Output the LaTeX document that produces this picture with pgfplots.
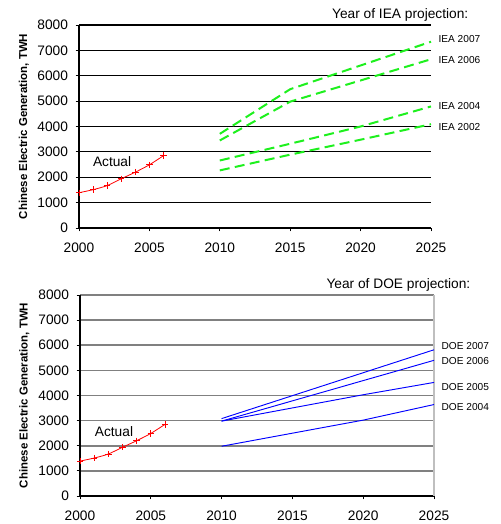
\documentclass[border=0pt]{standalone}
\usepackage{fontspec}
\setmainfont{Liberation Sans}
\usepackage{pgfplots}
\pgfplotsset{compat=1.18}
\definecolor{iea}{RGB}{30,240,30}

\pgfplotsset{
  chinagen/.style={
    scale only axis,
    xmin=2000, xmax=2025, ymin=0, ymax=8000,
    xtick={2000,2005,...,2025},
    ytick={0,1000,...,8000},
    axis x line=bottom, axis y line=left,
    axis line style={-, black, line width=0.8pt},
    tick align=outside, major tick length=2.5pt,
    tick style={black, line width=0.6pt},
    ymajorgrids,
    /pgf/number format/1000 sep={},
    /pgf/number format/assume math mode=true,
    ticklabel style={font=\fontsize{10.3}{12}\selectfont},
    xticklabel style={yshift=-5.5pt},
    yticklabel style={xshift=-2.25pt},
    ylabel={Chinese Electric Generation, TWH},
    every axis y label/.style={at={(axis description cs:-0.157,0.5)}, rotate=90,
      anchor=center, font=\fontsize{8.6}{10}\selectfont\bfseries},
    clip=false,
  },
}
\tikzset{
  actual/.style={red, line width=0.6pt, mark=+, mark size=2.4pt, smooth, tension=0.4},
  iealine/.style={iea, line width=1.5pt, dash pattern=on 7.5pt off 4pt},
  doeline/.style={blue, line width=0.7pt},
  serlab/.style={anchor=west, xshift=5.5pt, font=\fontsize{7.6}{9}\selectfont, inner sep=0pt},
}

\begin{document}
\begin{tikzpicture}
\path[use as bounding box] (0,0) rectangle (375pt,393pt);

% top: IEA
\begin{axis}[chinagen, at={(59.25pt,222pt)}, anchor=south west,
  width=264pt, height=152.25pt,
  major grid style={black, line width=0.8pt}]
\addplot[actual] coordinates {(2000,1390) (2001,1510) (2002,1670) (2003,1940) (2004,2200) (2005,2490) (2006,2850)};
\addplot[iealine] coordinates {(2010,3710) (2015,5470) (2025,7340)};
\addplot[iealine] coordinates {(2010,3450) (2015,4980) (2025,6650)};
\addplot[iealine] coordinates {(2010,2660) (2015,3320) (2020,4000) (2025,4790)};
\addplot[iealine] coordinates {(2010,2270) (2015,2890) (2020,3480) (2025,4090)};
\node[font=\fontsize{10.3}{12}\selectfont] at (axis cs:2002.35,2600) {Actual};
\node[serlab] at (axis cs:2025,7450) {IEA 2007};
\node[serlab] at (axis cs:2025,6620) {IEA 2006};
\node[serlab] at (axis cs:2025,4800) {IEA 2004};
\node[serlab] at (axis cs:2025,3980) {IEA 2002};
\end{axis}
\node[anchor=east, font=\fontsize{10.3}{12}\selectfont] at (354.75pt,381.75pt) {Year of IEA projection:};

% bottom: DOE
\begin{axis}[chinagen, at={(60pt,21pt)}, anchor=south west,
  width=265.5pt, height=150.75pt,
  major grid style={gray, line width=1.2pt}]
\draw[black!25, line width=1.2pt] (rel axis cs:1,0) -- (rel axis cs:1,1);
\addplot[actual] coordinates {(2000,1390) (2001,1510) (2002,1670) (2003,1940) (2004,2200) (2005,2490) (2006,2850)};
\addplot[doeline] coordinates {(2010,3080) (2025,5820)};
\addplot[doeline] coordinates {(2010,2980) (2025,5400)};
\addplot[doeline] coordinates {(2010,2980) (2020,4030) (2025,4520)};
\addplot[doeline] coordinates {(2010,1980) (2020,3020) (2025,3640)};
\node[font=\fontsize{10.3}{12}\selectfont] at (axis cs:2002.4,2545) {Actual};
\node[serlab] at (axis cs:2025,5950) {DOE 2007};
\node[serlab] at (axis cs:2025,5370) {DOE 2006};
\node[serlab] at (axis cs:2025,4340) {DOE 2005};
\node[serlab] at (axis cs:2025,3530) {DOE 2004};
\end{axis}
\node[anchor=east, font=\fontsize{10.3}{12}\selectfont] at (356.25pt,179.25pt) {Year of DOE projection:};
\end{tikzpicture}
\end{document}
